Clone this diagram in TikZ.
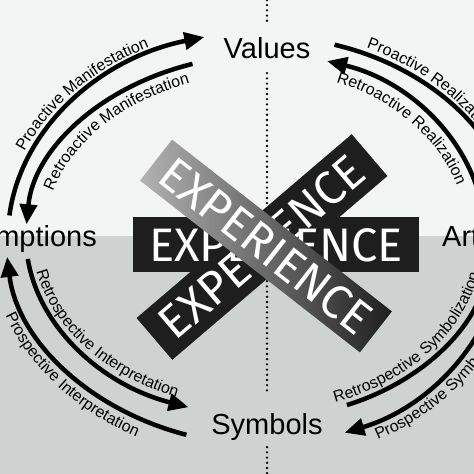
\documentclass[tikz,border=0pt]{standalone}
\usepackage{fontspec}
\setmainfont{Liberation Sans}
\newfontfamily\barfont{Fira Sans}
\usetikzlibrary{arrows.meta,decorations.text}

\definecolor{bgtop}{RGB}{243,244,244}
\definecolor{bgbot}{RGB}{206,211,210}
\definecolor{barblack}{RGB}{30,30,30}

\newcommand\arcfont{\fontsize{16}{16}\selectfont}

\tikzset{
  pole/.style={font=\fontsize{29}{29}\selectfont, inner sep=0pt},
  flow/.style={line width=4.5pt, -{Triangle[length=20pt,width=17pt]}},
  axis/.style={line width=2.6pt, line cap=round, dash pattern=on 0pt off 5.2pt},
  barbox/.style={minimum width=283pt, minimum height=55pt, inner sep=0pt},
  bartext/.style={text=white, inner sep=0pt, font=\barfont\fontsize{47}{47}\selectfont},
  arclabel/.style={decorate, decoration={text along path, text align=center, text={|\arcfont|#1}}}
}

\begin{document}
\begin{tikzpicture}[x=1pt,y=1pt]
\useasboundingbox (0,0) rectangle (474,474);
\clip (0,0) rectangle (474,474);
% background halves
\fill[bgbot] (0,0) rectangle (474,237.5);
\fill[bgtop] (0,237.5) rectangle (474,474);

\coordinate (hub) at (267,237);
\coordinate (axtop) at (267,474);
\coordinate (axbot) at (267,0);

% the four poles
\node[pole, anchor=base, text height=37pt, text depth=14pt] (values) at (267,415) {Values};
\node[pole, anchor=base, text height=41pt, text depth=12pt] (symbols) at (267,39) {Symbols};
\node[pole, anchor=base east] (assumptions) at (97,227) {Assumptions};
\node[pole, anchor=base west] (artifacts) at (442,227) {Artifacts};

% dotted axis
\draw[axis] (axtop) -- (values.north);
\draw[axis] (values.south) -- (symbols.north);
\draw[axis] (symbols.south) -- (axbot);

% experience bars
\node[barbox, fill=barblack, rotate=40.5] (riseBar) at (262,227) {};
\node[barbox, fill=barblack, minimum width=286pt] (flatBar) at (276,229) {};
\node[bartext, rotate=40.5] (riseText) at (riseBar.center) {EXPERIENCE};
\node[bartext] (flatText) at (flatBar.center) {EXPERIENCE};
\node[barbox, bartext, left color=black!30, right color=black!88, rotate=-38,
  minimum width=279pt, minimum height=52pt] (fallBar) at (266,228) {EXPERIENCE};

% manifestation
\draw[flow] ([shift={(174:259pt and 206pt)}]hub) arc[start angle=174, end angle=104, x radius=259pt, y radius=206pt];
\draw[flow] ([shift={(108:241pt and 182pt)}]hub) arc[start angle=108, end angle=176, x radius=241pt, y radius=182pt];
\path[arclabel=Proactive Manifestation] ([shift={(176:265pt and 212pt)}]hub) arc[start angle=176, end angle=100, x radius=265pt, y radius=212pt];
\path[arclabel=Retroactive Manifestation] ([shift={(180:223pt and 164pt)}]hub) arc[start angle=180, end angle=98, x radius=223pt, y radius=164pt];

% realization
\draw[flow] ([shift={(74:245pt and 200pt)}]hub) arc[start angle=74, end angle=8, x radius=245pt, y radius=200pt];
\draw[flow] ([shift={(8:218pt and 183pt)}]hub) arc[start angle=8, end angle=74, x radius=218pt, y radius=183pt];
\path[arclabel=Proactive Realization] ([shift={(80:251pt and 206pt)}]hub) arc[start angle=80, end angle=14, x radius=251pt, y radius=206pt];
\path[arclabel=Retroactive Realization] ([shift={(80:200pt and 165pt)}]hub) arc[start angle=80, end angle=6, x radius=200pt, y radius=165pt];

% interpretation
\draw[flow] ([shift={(252:261pt and 208pt)}]hub) arc[start angle=252, end angle=185.5, x radius=261pt, y radius=208pt];
\draw[flow] ([shift={(187:241pt and 180pt)}]hub) arc[start angle=187, end angle=251, x radius=241pt, y radius=180pt];
\path[arclabel=Retrospective Interpretation] ([shift={(180:235pt and 174pt)}]hub) arc[start angle=180, end angle=256, x radius=235pt, y radius=174pt];
\path[arclabel=Prospective Interpretation] ([shift={(185:279pt and 226pt)}]hub) arc[start angle=185, end angle=255, x radius=279pt, y radius=226pt];

% symbolization
\draw[flow] ([shift={(-69:223pt and 180pt)}]hub) arc[start angle=-69, end angle=-8, x radius=223pt, y radius=180pt];
\draw[flow] ([shift={(-8:238pt and 207pt)}]hub) arc[start angle=-8, end angle=-71, x radius=238pt, y radius=207pt];
\path[arclabel=Retrospective Symbolization] ([shift={(-80:217pt and 174pt)}]hub) arc[start angle=-80, end angle=-2, x radius=217pt, y radius=174pt];
\path[arclabel=Prospective Symbolization] ([shift={(-80:256pt and 225pt)}]hub) arc[start angle=-80, end angle=-2, x radius=256pt, y radius=225pt];
\end{tikzpicture}
\end{document}
